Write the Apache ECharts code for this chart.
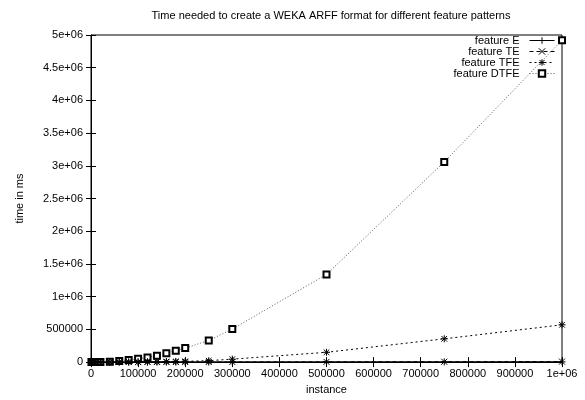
<!DOCTYPE html>
<html><head><meta charset="utf-8">
<script src="https://cdn.jsdelivr.net/npm/echarts@6/dist/echarts.min.js"></script>
<style>html,body{margin:0;padding:0;background:#fff}#c{width:585px;height:400px}</style>
</head><body><div id="c"></div>
<script>
const instances = [1000, 5000, 10000, 20000, 40000, 60000, 80000, 100000, 120000, 140000, 160000, 180000, 200000, 250000, 300000, 500000, 750000, 1000000];
const featureE = [3, 10, 20, 40, 80, 130, 180, 230, 300, 360, 420, 480, 550, 750, 1000, 1800, 2800, 3800];
const featureTE = [5, 20, 40, 80, 150, 250, 350, 450, 550, 700, 800, 950, 1100, 1500, 2000, 3500, 5500, 7500];
const featureTFE = [20, 100, 200, 400, 800, 1500, 2500, 3500, 5000, 6500, 8000, 10000, 12000, 22000, 45000, 150000, 356000, 570000];
const featureDTFE = [200, 800, 1500, 3000, 5000, 18000, 33000, 50000, 72000, 98000, 137000, 175000, 215000, 330000, 505000, 1340000, 3060000, 4920000];
const seriesNames = ['feature E', 'feature TE', 'feature TFE', 'feature DTFE'];

const FONT = 'Liberation Sans, Arial, sans-serif';
function fmt(v){ return v >= 1e6 ? (v/1e6) + 'e+06' : String(v); }
function pairs(ys){ return instances.map((x,i)=>[x, ys[i]]); }

const plus = 'path://M0,5L10,5M5,0L5,10';
const cross = 'path://M0,0L10,10M10,0L0,10';
const star = 'path://M0,5L10,5M5,0L5,10M1,1L9,9M9,1L1,9';

const chart = echarts.init(document.getElementById('c'), null, {renderer:'canvas'});
const tick = {show:true, inside:true, length:5, lineStyle:{color:'#000', width:1}};
chart.setOption({
  animation:false,
  backgroundColor:'#fff',
  textStyle:{fontFamily:FONT},
  title:{text:'Time needed to create a WEKA ARFF format for different feature patterns', left:326, textAlign:'center', top:5,
    textStyle:{fontFamily:FONT, fontSize:11, fontWeight:'normal', color:'#000'}},
  grid:{left:91, right:23, top:35, bottom:32, show:true, borderColor:'#000', borderWidth:1, backgroundColor:'transparent'},
  legend:{
    orient:'vertical', right:30, top:35, align:'right', itemGap:0, itemWidth:25, itemHeight:8, padding:0,
    data:seriesNames,
    lineStyle:{width:1},
    itemStyle:{borderWidth:1},
    textStyle:{fontFamily:FONT, fontSize:11, color:'#000', lineHeight:11, padding:[0,5,0,0]},
    backgroundColor:'transparent'
  },
  xAxis:[{
    type:'value', min:0, max:1000000, interval:100000,
    name:'instance', nameLocation:'middle', nameGap:20,
    nameTextStyle:{fontFamily:FONT, fontSize:11, color:'#000'},
    axisLine:{show:true, lineStyle:{color:'#000'}},
    axisTick:tick, splitLine:{show:false},
    axisLabel:{formatter:fmt, fontFamily:FONT, fontSize:11, color:'#000', margin:6}
  },{
    type:'value', position:'top', min:0, max:1000000, interval:100000,
    axisLine:{show:false}, axisTick:tick, axisLabel:{show:false}, splitLine:{show:false}
  }],
  yAxis:[{
    type:'value', min:0, max:5000000, interval:500000,
    name:'time in ms', nameLocation:'middle', nameGap:66, nameRotate:90,
    nameTextStyle:{fontFamily:FONT, fontSize:11, color:'#000'},
    axisLine:{show:true, lineStyle:{color:'#000'}},
    axisTick:tick, splitLine:{show:false},
    axisLabel:{formatter:fmt, fontFamily:FONT, fontSize:11, color:'#000', margin:8}
  },{
    type:'value', position:'right', min:0, max:5000000, interval:500000,
    axisLine:{show:false}, axisTick:tick, axisLabel:{show:false}, splitLine:{show:false}
  }],
  series:[
    {name:seriesNames[0], type:'line', data:pairs(featureE), symbol:plus, symbolSize:7,
     lineStyle:{color:'#000', width:1, type:'solid'}, itemStyle:{color:'#000', borderColor:'#000', borderWidth:1}, z:5},
    {name:seriesNames[1], type:'line', data:pairs(featureTE), symbol:cross, symbolSize:6,
     lineStyle:{color:'#000', width:1, type:[4,3]}, itemStyle:{color:'#000', borderColor:'#000', borderWidth:1}, z:4},
    {name:seriesNames[2], type:'line', data:pairs(featureTFE), symbol:star, symbolSize:7,
     lineStyle:{color:'#000', width:1, type:[2,3]}, itemStyle:{color:'#000', borderColor:'#000', borderWidth:1}, z:3},
    {name:seriesNames[3], type:'line', data:pairs(featureDTFE), symbol:'emptyRect', symbolSize:6,
     lineStyle:{color:'#555', width:1, type:[1,2]}, itemStyle:{color:'#000', borderColor:'#000', borderWidth:1}, z:2}
  ]
});
</script></body></html>
